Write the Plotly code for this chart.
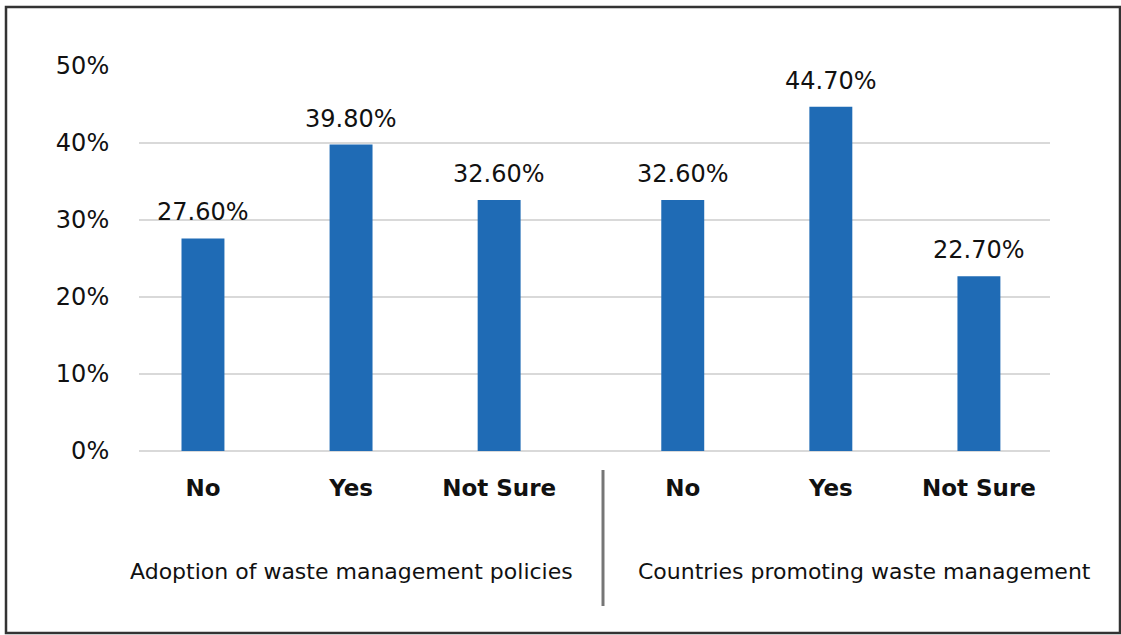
import plotly.graph_objects as go

# Survey results, two question groups
groups = ["Adoption of waste management policies", "Countries promoting waste management"]
categories = ["No", "Yes", "Not Sure"]
values = [[27.6, 39.8, 32.6], [32.6, 44.7, 22.7]]
y_ticks = [0, 10, 20, 30, 40, 50]

BAR_COLOR = "#1f6bb5"
TEXT_COLOR = "#111111"
FONT = "DejaVu Sans"
GROUP_GAP = 0.24
GROUP_LABEL_SHIFT = [0, 34]

W, H = 1121, 635
ML, MR, MT, MB = 139, 71, 66, 184

xs, ys, texts, tick_text = [], [], [], []
for g, vals in enumerate(values):
    for i, v in enumerate(vals):
        xs.append(g * len(categories) + i + g * GROUP_GAP)
        ys.append(v)
        texts.append(f"{v:.2f}%")
        tick_text.append(f"<b>{categories[i]}</b>")

fig = go.Figure(go.Bar(
    x=xs, y=ys, width=0.29,
    marker=dict(color=BAR_COLOR, line=dict(width=0)),
    hoverinfo="skip",
))

pw = W - ML - MR
ph = H - MT - MB

def px_x(p):
    return (p - ML) / pw

def px_y(p):
    return (H - MB - p) / ph

shapes = [
    # outer frame
    dict(type="rect", xref="paper", yref="paper",
         x0=px_x(6), x1=px_x(1120), y0=px_y(633), y1=px_y(7),
         line=dict(color="#333333", width=2.5)),
    # divider between groups
    dict(type="line", xref="paper", yref="paper",
         x0=px_x(603), x1=px_x(603), y0=px_y(470), y1=px_y(606),
         line=dict(color="#767676", width=3)),
]

annotations = []
# value labels above each bar
for x, y, t in zip(xs, ys, texts):
    annotations.append(dict(
        x=x, y=y, xref="x", yref="y", yanchor="bottom",
        text=t, showarrow=False, yshift=10,
        font=dict(family=FONT, size=24, color=TEXT_COLOR),
    ))
# group titles under the category labels
for g, name in enumerate(groups):
    center = g * len(categories) + 1 + g * GROUP_GAP
    annotations.append(dict(
        x=center, xref="x", y=px_y(571), yref="paper", yanchor="middle",
        xshift=GROUP_LABEL_SHIFT[g],
        text=name, showarrow=False,
        font=dict(family=FONT, size=22, color=TEXT_COLOR),
    ))

fig.update_layout(
    width=W, height=H,
    margin=dict(l=ML, r=MR, t=MT, b=MB),
    paper_bgcolor="white", plot_bgcolor="white",
    showlegend=False,
    shapes=shapes, annotations=annotations,
    xaxis=dict(
        range=[-0.432, 5.72],
        tickvals=xs, ticktext=tick_text,
        tickfont=dict(family=FONT, size=23, color=TEXT_COLOR),
        showgrid=False, zeroline=False, showline=False,
        ticks="outside", ticklen=16, tickcolor="rgba(0,0,0,0)",
    ),
    yaxis=dict(
        range=[0, 50],
        tickvals=y_ticks, ticktext=[f"{t}%" for t in y_ticks],
        tickfont=dict(family=FONT, size=24, color=TEXT_COLOR),
        showgrid=True, gridcolor="#d9d9d9", gridwidth=2,
        zeroline=True, zerolinecolor="#d9d9d9", zerolinewidth=2,
        showline=False,
        ticks="outside", ticklen=24, tickcolor="rgba(0,0,0,0)",
    ),
)

fig.write_html("out.html")
